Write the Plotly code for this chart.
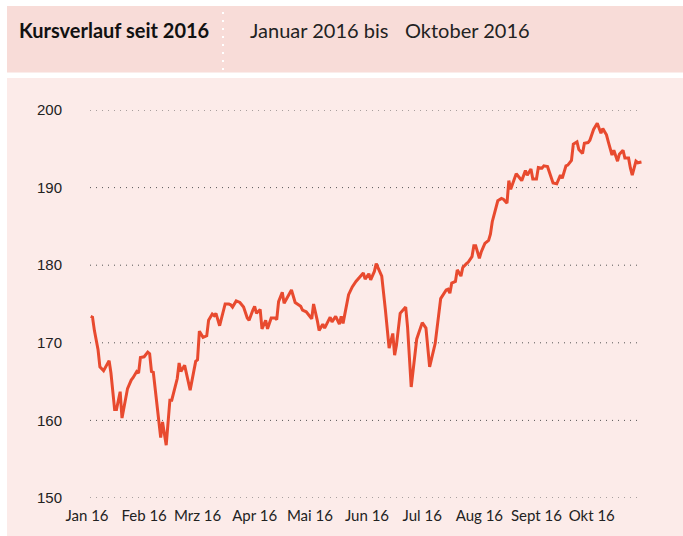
import plotly.graph_objects as go

# ---------------- data ----------------
dates = [
    "2016-01-03", "2016-01-04", "2016-01-05", "2016-01-07", "2016-01-08", "2016-01-10",
    "2016-01-13", "2016-01-14", "2016-01-16", "2016-01-17", "2016-01-19", "2016-01-20",
    "2016-01-23", "2016-01-25", "2016-01-26", "2016-01-28", "2016-01-29", "2016-01-30",
    "2016-02-01", "2016-02-03", "2016-02-04", "2016-02-05", "2016-02-06", "2016-02-10",
    "2016-02-11", "2016-02-13", "2016-02-15", "2016-02-16", "2016-02-19", "2016-02-20",
    "2016-02-21", "2016-02-23", "2016-02-26", "2016-02-29", "2016-03-01", "2016-03-02",
    "2016-03-04", "2016-03-06", "2016-03-07", "2016-03-09", "2016-03-10", "2016-03-11",
    "2016-03-13", "2016-03-14", "2016-03-16", "2016-03-18", "2016-03-19", "2016-03-20",
    "2016-03-22", "2016-03-24", "2016-03-26", "2016-03-28", "2016-03-29", "2016-03-31",
    "2016-04-01", "2016-04-02", "2016-04-04", "2016-04-05", "2016-04-07", "2016-04-08",
    "2016-04-10", "2016-04-12", "2016-04-13", "2016-04-14", "2016-04-16", "2016-04-17",
    "2016-04-19", "2016-04-21", "2016-04-23", "2016-04-26", "2016-04-27", "2016-04-29",
    "2016-05-02", "2016-05-03", "2016-05-05", "2016-05-06", "2016-05-08", "2016-05-09",
    "2016-05-12", "2016-05-13", "2016-05-15", "2016-05-17", "2016-05-18", "2016-05-19",
    "2016-05-22", "2016-05-24", "2016-05-26", "2016-05-29", "2016-05-30", "2016-05-31",
    "2016-06-02", "2016-06-03", "2016-06-05", "2016-06-06", "2016-06-09", "2016-06-11",
    "2016-06-13", "2016-06-15", "2016-06-16", "2016-06-17", "2016-06-19", "2016-06-22",
    "2016-06-23", "2016-06-25", "2016-06-28", "2016-06-29", "2016-07-01", "2016-07-03",
    "2016-07-05", "2016-07-08", "2016-07-10", "2016-07-11", "2016-07-14", "2016-07-15",
    "2016-07-16", "2016-07-17", "2016-07-19", "2016-07-20", "2016-07-22", "2016-07-23",
    "2016-07-25", "2016-07-26", "2016-07-28", "2016-07-29", "2016-07-30", "2016-08-01",
    "2016-08-02", "2016-08-04", "2016-08-06", "2016-08-07", "2016-08-08", "2016-08-09",
    "2016-08-11", "2016-08-13", "2016-08-14", "2016-08-16", "2016-08-17", "2016-08-18",
    "2016-08-20", "2016-08-21", "2016-08-23", "2016-08-24", "2016-08-26", "2016-08-27",
    "2016-08-29", "2016-08-30", "2016-09-01", "2016-09-02", "2016-09-04", "2016-09-05",
    "2016-09-07", "2016-09-10", "2016-09-12", "2016-09-14", "2016-09-15", "2016-09-17",
    "2016-09-18", "2016-09-20", "2016-09-21", "2016-09-23", "2016-09-24", "2016-09-26",
    "2016-09-27", "2016-09-29", "2016-09-30", "2016-10-02", "2016-10-04", "2016-10-06",
    "2016-10-07", "2016-10-09", "2016-10-10", "2016-10-12", "2016-10-13", "2016-10-15",
    "2016-10-16", "2016-10-18", "2016-10-19", "2016-10-21", "2016-10-22", "2016-10-23",
    "2016-10-25", "2016-10-26", "2016-10-28",
]
kurs = [
    173.4, 173.3, 171.6, 169.1, 166.9, 166.4,
    167.7, 166.1, 161.4, 161.4, 163.7, 160.3,
    164.1, 165.2, 165.5, 166.3, 166.1, 168.1,
    168.2, 168.8, 168.6, 166.3, 166.2, 157.8,
    159.8, 156.8, 162.6, 162.6, 165.4, 167.4,
    166.3, 167.1, 163.9, 167.6, 167.8, 171.5,
    170.7, 170.9, 172.9, 173.7, 173.5, 173.8,
    172.2, 173.2, 175.0, 175.0, 174.9, 174.6,
    175.4, 175.2, 174.6, 173.2, 172.9, 174.2,
    174.7, 173.8, 174.3, 171.8, 172.9, 171.8,
    173.2, 173.2, 173.0, 175.3, 176.5, 175.1,
    175.9, 176.8, 175.2, 174.7, 174.2, 174.0,
    173.1, 175.0, 172.9, 171.6, 172.4, 171.9,
    173.3, 172.7, 173.4, 172.4, 173.4, 172.5,
    176.2, 177.2, 177.9, 178.8, 179.0, 178.2,
    178.9, 178.1, 179.2, 180.2, 178.6, 174.2,
    169.3, 171.2, 168.4, 169.7, 173.8, 174.6,
    172.1, 164.3, 170.5, 171.2, 172.6, 171.9,
    166.9, 169.9, 174.1, 175.7, 176.8, 176.9,
    176.4, 177.7, 177.9, 179.4, 178.6, 179.7,
    180.2, 180.4, 181.1, 182.5, 182.5, 180.9,
    181.7, 182.8, 183.2, 184.0, 185.6, 186.5,
    188.3, 188.6, 188.5, 188.0, 190.9, 189.8,
    191.1, 191.8, 191.2, 190.9, 192.2, 191.6,
    192.4, 191.1, 191.1, 192.6, 192.5, 192.8,
    192.7, 190.6, 190.5, 191.6, 191.2, 192.8,
    192.9, 193.5, 195.6, 195.9, 194.9, 194.4,
    195.7, 195.8, 196.1, 197.5, 198.3, 197.0,
    197.6, 196.8, 195.9, 194.2, 194.8, 193.4,
    194.3, 194.8, 193.8, 193.8, 192.5, 191.6,
    193.4, 193.2, 193.3,
]
month_ticks = ["2016-01-01", "2016-02-01", "2016-03-01", "2016-04-01", "2016-05-01",
               "2016-06-01", "2016-07-01", "2016-08-01", "2016-09-01", "2016-10-01"]
month_labels = ["Jan 16", "Feb 16", "Mrz 16", "Apr 16", "Mai 16",
                "Jun 16", "Jul 16", "Aug 16", "Sept 16", "Okt 16"]
y_ticks = [150, 160, 170, 180, 190, 200]
title_text = "Kursverlauf seit 2016"
subtitle_from = "Januar 2016 bis"
subtitle_to = "Oktober 2016"

# ---------------- layout helpers ----------------
W, H = 683, 536
L, R, T, B = 87, 36, 110, 38
PW, PH = W - L - R, H - T - B


def px_x(px):
    return (px - L) / PW


def px_y(py):
    return (H - B - py) / PH


HUM = "Lato, Open Sans, sans-serif"
HEADER_BG = "#F8DCD8"
PANEL_BG = "#FCEBE9"
LINE_COLOR = "#E84A2F"

fig = go.Figure()
fig.add_trace(go.Scatter(
    x=dates, y=kurs, mode="lines",
    line=dict(color=LINE_COLOR, width=3),
    hoverinfo="x+y", showlegend=False,
))

shapes = [
    dict(type="rect", xref="paper", yref="paper",
         x0=px_x(7), x1=px_x(W + 2), y0=px_y(72.5), y1=px_y(6),
         fillcolor=HEADER_BG, line=dict(width=0), layer="below"),
    dict(type="rect", xref="paper", yref="paper",
         x0=px_x(7), x1=px_x(W + 2), y0=px_y(H + 2), y1=px_y(78),
         fillcolor=PANEL_BG, line=dict(width=0), layer="below"),
    dict(type="line", xref="paper", yref="paper",
         x0=px_x(223), x1=px_x(223), y0=px_y(70), y1=px_y(10),
         line=dict(color="white", width=2, dash="2px,6px")),
]
for v in y_ticks:
    shapes.append(dict(type="line", xref="paper", yref="y",
                       x0=px_x(90), x1=px_x(641), y0=v, y1=v,
                       line=dict(color="#555555", width=1, dash="1px,5px"),
                       layer="below"))

annotations = [
    dict(text="<b>" + title_text + "</b>", xref="paper", yref="paper",
         x=px_x(17), y=px_y(30), xanchor="left", yanchor="middle",
         showarrow=False, font=dict(family=HUM, size=20, color="#111111")),
    dict(text=subtitle_from, xref="paper", yref="paper",
         x=px_x(248), y=px_y(30), xanchor="left", yanchor="middle",
         showarrow=False, font=dict(family=HUM, size=20, color="#222222")),
    dict(text=subtitle_to, xref="paper", yref="paper",
         x=px_x(403), y=px_y(30), xanchor="left", yanchor="middle",
         showarrow=False, font=dict(family=HUM, size=20, color="#222222")),
]

fig.update_layout(
    width=W, height=H,
    margin=dict(l=L, r=R, t=T, b=B, pad=0),
    paper_bgcolor="white",
    plot_bgcolor="rgba(0,0,0,0)",
    shapes=shapes,
    annotations=annotations,
    xaxis=dict(
        type="date", range=["2016-01-01", "2016-10-31"],
        tickmode="array", tickvals=month_ticks, ticktext=month_labels,
        showgrid=False, zeroline=False, showline=False, ticks="",
        tickfont=dict(family=HUM, size=15, color="#222222"),
        ticklabelstandoff=7, fixedrange=True, automargin=False,
    ),
    yaxis=dict(
        range=[150, 200], tickmode="array", tickvals=y_ticks,
        showgrid=False, zeroline=False, showline=False, ticks="",
        tickfont=dict(family="Liberation Sans, Arial, sans-serif", size=15, color="#222222"),
        ticklabelstandoff=24, fixedrange=True, automargin=False,
    ),
)

fig.write_html("out.html", config={"displayModeBar": False},
               post_script="document.body.style.margin='0';")
